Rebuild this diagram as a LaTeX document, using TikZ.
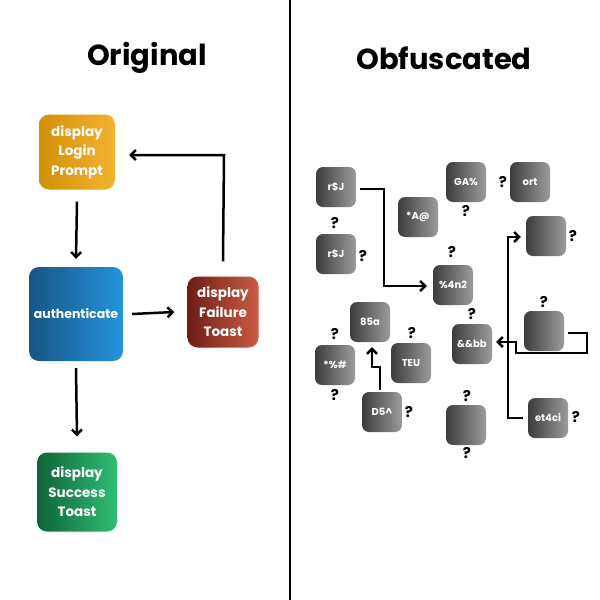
\documentclass[tikz,border=0pt]{standalone}
\usepackage{fontspec}
\setmainfont{Poppins}
\usetikzlibrary{arrows.meta}
\definecolor{orL}{HTML}{D39008}
\definecolor{orR}{HTML}{F2B332}
\definecolor{blL}{HTML}{175584}
\definecolor{blR}{HTML}{2494DC}
\definecolor{rdL}{HTML}{6E1E16}
\definecolor{rdR}{HTML}{CC5C44}
\definecolor{gnL}{HTML}{0E6436}
\definecolor{gnR}{HTML}{2FBE74}
\definecolor{gyL}{HTML}{3C3C3C}
\definecolor{gyR}{HTML}{9C9C9C}
\begin{document}
\begin{tikzpicture}[x=1pt,y=-1pt,
  cbox/.style={rounded corners=10pt, text=white, font=\fontsize{13.5}{19.5}\selectfont\bfseries, align=center, inner sep=0pt},
  gbox/.style={rounded corners=7pt, minimum width=40pt, minimum height=40pt, left color=gyL, right color=gyR, text=white, font=\fontsize{10}{11}\selectfont\bfseries, inner sep=0pt},
  qm/.style={font=\fontsize{15}{15}\selectfont\bfseries, inner sep=0pt},
  arr/.style={line width=2.5pt, -{Straight Barb[length=5pt,width=10pt,line width=2.5pt]}},
  ttl/.style={font=\fontsize{29}{29}\selectfont\bfseries}]
\useasboundingbox (0,0) rectangle (600,600);
\fill[white] (0,0) rectangle (600,600);
\coordinate (dt) at (290,0);
\coordinate (db) at (290,600);
\draw[line width=2pt] (dt) -- (db);
\node[ttl] (t1) at (147,58) {Original};
\node[ttl] (t2) at (444,58) {Obfuscated};
% left
\node[cbox, minimum width=76pt, minimum height=75pt, left color=orL, right color=orR] (login) at (77,152) {display\\Login\\Prompt};
\node[cbox, minimum width=94pt, minimum height=94pt, left color=blL, right color=blR, font=\fontsize{12.5}{19}\selectfont\bfseries] (auth) at (76,314) {authenticate};
\node[cbox, minimum width=71pt, minimum height=71pt, left color=rdL, right color=rdR] (fail) at (223,312) {display\\Failure\\Toast};
\node[cbox, minimum width=80pt, minimum height=79pt, left color=gnL, right color=gnR] (succ) at (77,492) {display\\Success\\Toast};
\draw[arr] ([yshift=-12pt]login.south) -- ([yshift=8pt]auth.north);
\draw[arr] ([xshift=9pt]auth.east) -- ([xshift=-13pt]fail.west);
\draw[arr] ([yshift=-7pt]auth.south) -- ([yshift=16pt]succ.north);
\coordinate (fc) at (224,155);
\draw[arr] ([yshift=15pt]fail.north) -- (fc) -- ([xshift=14pt]login.east |- fc);
% right
\node[gbox] (rj1) at (336,187) {r\$J};
\node[gbox] (rj2) at (336,254) {r\$J};
\node[gbox] (aa) at (418,217) {*A@};
\node[gbox] (ga) at (466,182) {GA\%};
\node[gbox] (ort) at (530,182) {ort};
\node[gbox] (e1) at (546,236) {};
\node[gbox] (pn) at (453,285) {\%4n2};
\node[gbox] (a85) at (370,322) {85a};
\node[gbox] (ph) at (335,365) {*\%\#};
\node[gbox] (teu) at (411,363) {TEU};
\node[gbox] (d5) at (382,412) {D5\^{}};
\node[gbox] (bb) at (472,344) {\&\&bb};
\node[gbox] (e2) at (544,331) {};
\node[gbox] (et) at (548,418) {et4ci};
\node[gbox] (e3) at (466,425) {};
\node[qm] (q1) at (335,223) {?};
\node[qm] (q2) at (363,256) {?};
\node[qm] (q3) at (466,211) {?};
\node[qm] (q4) at (503,182) {?};
\node[qm] (q5) at (573,236) {?};
\node[qm] (q6) at (452,252) {?};
\node[qm] (q7) at (335,334) {?};
\node[qm] (q8) at (335,395) {?};
\node[qm] (q9) at (412,333) {?};
\node[qm] (q10) at (409,412) {?};
\node[qm] (q11) at (472,314) {?};
\node[qm] (q12) at (544,302) {?};
\node[qm] (q13) at (576,417) {?};
\node[qm] (q14) at (467,396) {?};
\node[qm] (q15) at (467,453) {?};
% connectors
\coordinate (c1) at (384,189);
\coordinate (c2) at (384,286);
\draw[arr] ([xshift=4pt]rj1.east |- c1) -- (c1) -- (c2) -- ([xshift=-6pt]pn.west |- c2);
\coordinate (c3) at (380,367);
\coordinate (c4) at (372,367);
\draw[arr] ([yshift=2pt]d5.north -| c3) -- (c3) -- (c4) -- ([yshift=-5pt]a85.south -| c4);
\coordinate (c5) at (508,418);
\coordinate (c6) at (508,237);
\draw[arr] ([xshift=-5pt]et.west |- c5) -- (c5) -- (c6) -- ([xshift=-5pt]e1.west |- c6);
\coordinate (c7) at (587,333);
\coordinate (c8) at (587,353);
\coordinate (c9) at (516,353);
\coordinate (c10) at (516,342);
\draw[arr] ([xshift=4pt]e2.east |- c7) -- (c7) -- (c8) -- (c9) -- (c10) -- ([xshift=4pt]bb.east |- c10);
\end{tikzpicture}
\end{document}
